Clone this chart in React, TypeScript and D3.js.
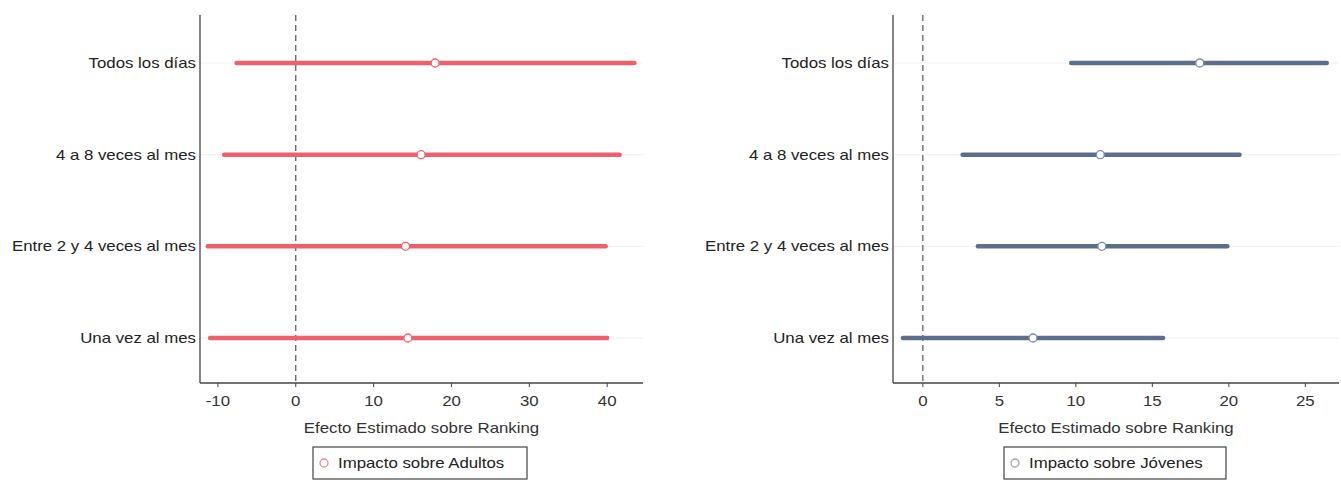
import React from "react";
import * as d3 from "d3";

const categories = ["Todos los días", "4 a 8 veces al mes", "Entre 2 y 4 veces al mes", "Una vez al mes"];

const adultosEst = [17.9, 16.1, 14.1, 14.4];
const adultosLo = [-7.6, -9.2, -11.3, -11.0];
const adultosHi = [43.5, 41.6, 39.8, 40.0];

const jovenesEst = [18.1, 11.6, 11.7, 7.2];
const jovenesLo = [9.7, 2.6, 3.6, -1.3];
const jovenesHi = [26.4, 20.7, 19.9, 15.7];

const ticksAdultos = [-10, 0, 10, 20, 30, 40];
const ticksJovenes = [0, 5, 10, 15, 20, 25];

const xTitle = "Efecto Estimado sobre Ranking";
const legendAdultos = "Impacto sobre Adultos";
const legendJovenes = "Impacto sobre Jóvenes";

const FONT = "'Liberation Sans', Arial, sans-serif";
const SX = 1.16;

function T(props: { x: number; y: number; anchor?: string; fill?: string; dy?: string; children: React.ReactNode }) {
  return (
    <text
      transform={`translate(${props.x},${props.y}) scale(${SX},1)`}
      dy={props.dy}
      textAnchor={props.anchor || "start"}
      fontFamily={FONT}
      fontSize={14.5}
      fill={props.fill || "#222"}
    >
      {props.children}
    </text>
  );
}

type PanelProps = {
  x0: number;
  x1: number;
  domain: [number, number];
  ticks: number[];
  est: number[];
  lo: number[];
  hi: number[];
  color: string;
  markerStroke: string;
  legendMarker: string;
  legend: string;
  legendX0: number;
  legendX1: number;
};

function Panel(p: PanelProps) {
  const top = 15;
  const axisY = 383;
  const x = d3.scaleLinear().domain(p.domain).range([p.x0, p.x1]);
  const y = d3.scalePoint<string>().domain(categories).range([63, 338]);
  const midX = (p.x0 + p.x1) / 2;
  return (
    <g>
      {categories.map((c) => (
        <line key={"g" + c} x1={p.x0} x2={p.x1} y1={y(c)} y2={y(c)} stroke="#f0f0f0" strokeWidth={1} />
      ))}
      <line x1={x(0)} x2={x(0)} y1={top} y2={axisY} stroke="#555" strokeWidth={1.2} strokeDasharray="6,4" />
      {categories.map((c, i) => (
        <line key={"l" + c} x1={x(p.lo[i])} x2={x(p.hi[i])} y1={y(c)} y2={y(c)} stroke={p.color} strokeWidth={4.5} strokeLinecap="round" />
      ))}
      {categories.map((c, i) => (
        <circle key={"p" + c} cx={x(p.est[i])} cy={y(c)} r={4} fill="#fff" stroke={p.markerStroke} strokeWidth={1.3} />
      ))}
      <line x1={p.x0} x2={p.x0} y1={top} y2={axisY} stroke="#444" strokeWidth={1.3} />
      <line x1={p.x0} x2={p.x1} y1={axisY} y2={axisY} stroke="#444" strokeWidth={1.3} />
      {categories.map((c) => (
        <T key={"t" + c} x={p.x0 - 4} y={y(c) as number} dy="0.35em" anchor="end">
          {c}
        </T>
      ))}
      {p.ticks.map((t) => (
        <g key={"k" + t}>
          <line x1={x(t)} x2={x(t)} y1={axisY} y2={axisY + 4} stroke="#444" strokeWidth={1} />
          <T x={x(t)} y={axisY + 23} anchor="middle" fill="#333">
            {t}
          </T>
        </g>
      ))}
      <T x={midX} y={axisY + 50} anchor="middle" fill="#333">
        {xTitle}
      </T>
      <rect x={p.legendX0} y={447} width={p.legendX1 - p.legendX0} height={32} fill="#fff" stroke="#444" strokeWidth={1.2} />
      <circle cx={p.legendX0 + 11} cy={463} r={4} fill="#fff" stroke={p.legendMarker} strokeWidth={1.3} />
      <T x={p.legendX0 + 25} y={463} dy="0.35em">
        {p.legend}
      </T>
    </g>
  );
}

export default function App() {
  return (
    <svg width={1341} height={494} style={{ position: "absolute", left: 0, top: 0, background: "#fff" }}>
      <rect x={0} y={0} width={1341} height={494} fill="#fff" />
      <Panel
        x0={200}
        x1={643}
        domain={[-12.3, 44.6]}
        ticks={ticksAdultos}
        est={adultosEst}
        lo={adultosLo}
        hi={adultosHi}
        color="#f0606c"
        markerStroke="#f0606c"
        legendMarker="#f08890"
        legend={legendAdultos}
        legendX0={313}
        legendX1={527}
      />
      <Panel
        x0={893}
        x1={1339}
        domain={[-1.95, 27.2]}
        ticks={ticksJovenes}
        est={jovenesEst}
        lo={jovenesLo}
        hi={jovenesHi}
        color="#5b6f8c"
        markerStroke="#7a8aa2"
        legendMarker="#a0a8b4"
        legend={legendJovenes}
        legendX0={1004}
        legendX1={1226}
      />
    </svg>
  );
}
